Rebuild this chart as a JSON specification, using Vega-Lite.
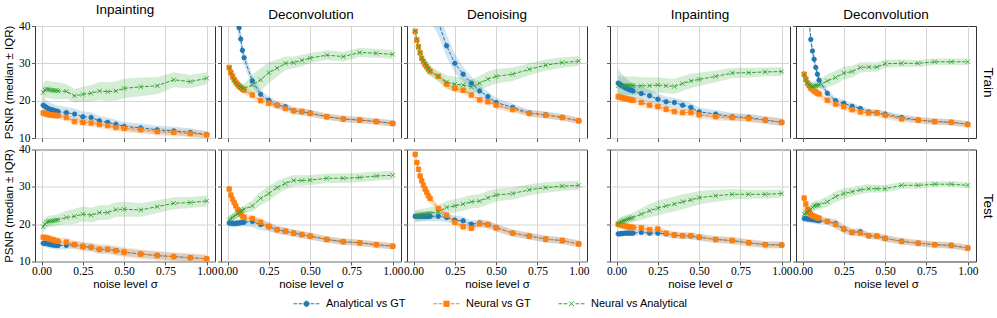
{
"$schema":"https://vega.github.io/schema/vega-lite/v6.json",
"padding":{"left":3,"top":2,"right":3,"bottom":2},
"datasets":{
"d1T":[
{"s":"A","x":0.01,"m":18.8,"l":16.8,"h":20.8},{"s":"A","x":0.02,"m":18.5,"l":16.6,"h":20.4},{"s":"A","x":0.03,"m":18.2,"l":16.3,"h":20.1},{"s":"A","x":0.04,"m":17.9,"l":16.1,"h":19.7},{"s":"A","x":0.05,"m":17.7,"l":15.9,"h":19.5},{"s":"A","x":0.06,"m":17.6,"l":15.9,"h":19.3},{"s":"A","x":0.07,"m":17.5,"l":15.8,"h":19.2},{"s":"A","x":0.08,"m":17.3,"l":15.6,"h":19.0},{"s":"A","x":0.09,"m":17.2,"l":15.6,"h":18.8},{"s":"A","x":0.1,"m":17.1,"l":15.5,"h":18.7},{"s":"A","x":0.15,"m":16.8,"l":15.3,"h":18.3},{"s":"A","x":0.2,"m":16.4,"l":14.9,"h":17.9},{"s":"A","x":0.25,"m":15.7,"l":14.3,"h":17.1},{"s":"A","x":0.3,"m":15.5,"l":14.1,"h":16.9},{"s":"A","x":0.35,"m":14.6,"l":13.3,"h":15.9},{"s":"A","x":0.4,"m":14.2,"l":12.9,"h":15.5},{"s":"A","x":0.45,"m":13.7,"l":12.5,"h":14.9},{"s":"A","x":0.5,"m":13.1,"l":11.9,"h":14.3},{"s":"A","x":0.6,"m":12.7,"l":11.5,"h":13.9},{"s":"A","x":0.7,"m":12.2,"l":11.1,"h":13.3},{"s":"A","x":0.8,"m":11.9,"l":10.8,"h":13.0},{"s":"A","x":0.9,"m":11.5,"l":10.4,"h":12.6},{"s":"A","x":1,"m":10.9,"l":9.9,"h":11.9},
{"s":"N","x":0.01,"m":16.7,"l":15.7,"h":17.7},{"s":"N","x":0.02,"m":16.6,"l":15.6,"h":17.6},{"s":"N","x":0.03,"m":16.4,"l":15.4,"h":17.4},{"s":"N","x":0.04,"m":16.3,"l":15.3,"h":17.3},{"s":"N","x":0.05,"m":16.2,"l":15.2,"h":17.2},{"s":"N","x":0.06,"m":16.2,"l":15.2,"h":17.2},{"s":"N","x":0.07,"m":16.1,"l":15.1,"h":17.1},{"s":"N","x":0.08,"m":16.1,"l":15.1,"h":17.1},{"s":"N","x":0.09,"m":16.0,"l":15.0,"h":17.0},{"s":"N","x":0.1,"m":16.0,"l":15.0,"h":17.0},{"s":"N","x":0.15,"m":15.5,"l":14.5,"h":16.5},{"s":"N","x":0.2,"m":14.4,"l":13.4,"h":15.4},{"s":"N","x":0.25,"m":14.2,"l":13.2,"h":15.2},{"s":"N","x":0.3,"m":14.0,"l":13.0,"h":15.0},{"s":"N","x":0.35,"m":13.6,"l":12.6,"h":14.6},{"s":"N","x":0.4,"m":13.3,"l":12.3,"h":14.3},{"s":"N","x":0.45,"m":12.8,"l":11.8,"h":13.8},{"s":"N","x":0.5,"m":12.6,"l":11.6,"h":13.6},{"s":"N","x":0.6,"m":12.2,"l":11.2,"h":13.2},{"s":"N","x":0.7,"m":11.7,"l":10.7,"h":12.7},{"s":"N","x":0.8,"m":11.5,"l":10.5,"h":12.5},{"s":"N","x":0.9,"m":11.2,"l":10.2,"h":12.2},{"s":"N","x":1,"m":10.8,"l":9.8,"h":11.8},
{"s":"NA","x":0.01,"m":22.2,"l":19.9,"h":24.5},{"s":"NA","x":0.02,"m":22.9,"l":20.6,"h":25.2},{"s":"NA","x":0.03,"m":23.1,"l":20.8,"h":25.4},{"s":"NA","x":0.04,"m":23.0,"l":20.7,"h":25.3},{"s":"NA","x":0.05,"m":22.9,"l":20.6,"h":25.2},{"s":"NA","x":0.06,"m":22.8,"l":20.5,"h":25.1},{"s":"NA","x":0.07,"m":22.8,"l":20.5,"h":25.1},{"s":"NA","x":0.08,"m":22.7,"l":20.4,"h":25.0},{"s":"NA","x":0.09,"m":22.7,"l":20.4,"h":25.0},{"s":"NA","x":0.1,"m":22.6,"l":20.3,"h":24.9},{"s":"NA","x":0.15,"m":22.5,"l":20.5,"h":24.5},{"s":"NA","x":0.2,"m":21.3,"l":19.5,"h":23.1},{"s":"NA","x":0.25,"m":21.7,"l":19.7,"h":23.7},{"s":"NA","x":0.3,"m":22.0,"l":19.8,"h":24.2},{"s":"NA","x":0.35,"m":22.6,"l":20.2,"h":25.0},{"s":"NA","x":0.4,"m":22.4,"l":19.9,"h":24.9},{"s":"NA","x":0.45,"m":22.6,"l":20.0,"h":25.2},{"s":"NA","x":0.5,"m":23.3,"l":20.7,"h":25.9},{"s":"NA","x":0.6,"m":23.7,"l":21.2,"h":26.2},{"s":"NA","x":0.7,"m":24.0,"l":21.7,"h":26.3},{"s":"NA","x":0.8,"m":25.6,"l":23.6,"h":27.6},{"s":"NA","x":0.9,"m":25.1,"l":23.3,"h":26.9},{"s":"NA","x":1,"m":26.0,"l":24.4,"h":27.6}
],
"d2T":[
{"s":"A","x":0.01,"m":70,"l":66,"h":74},{"s":"A","x":0.02,"m":60,"l":56,"h":64},{"s":"A","x":0.03,"m":53,"l":49.5,"h":56.5},{"s":"A","x":0.04,"m":48,"l":45,"h":51},{"s":"A","x":0.05,"m":43.5,"l":40.5,"h":46.5},{"s":"A","x":0.06,"m":40.8,"l":38.3,"h":43.3},{"s":"A","x":0.07,"m":39.5,"l":37,"h":42},{"s":"A","x":0.08,"m":36.5,"l":34.3,"h":38.7},{"s":"A","x":0.09,"m":33.5,"l":31.5,"h":35.5},{"s":"A","x":0.1,"m":31.5,"l":29.7,"h":33.3},{"s":"A","x":0.15,"m":25.3,"l":23.8,"h":26.8},{"s":"A","x":0.2,"m":21.7,"l":20.5,"h":22.9},{"s":"A","x":0.25,"m":20.1,"l":19.1,"h":21.1},{"s":"A","x":0.3,"m":18.8,"l":17.8,"h":19.8},{"s":"A","x":0.35,"m":18.4,"l":17.4,"h":19.4},{"s":"A","x":0.4,"m":17.3,"l":16.4,"h":18.2},{"s":"A","x":0.45,"m":17.0,"l":16.1,"h":17.9},{"s":"A","x":0.5,"m":16.7,"l":15.8,"h":17.6},{"s":"A","x":0.6,"m":15.7,"l":14.9,"h":16.5},{"s":"A","x":0.7,"m":15.1,"l":14.3,"h":15.9},{"s":"A","x":0.8,"m":14.8,"l":14.0,"h":15.6},{"s":"A","x":0.9,"m":14.4,"l":13.6,"h":15.2},{"s":"A","x":1,"m":13.9,"l":13.1,"h":14.7},
{"s":"N","x":0.01,"m":28.9,"l":27.8,"h":30.0},{"s":"N","x":0.02,"m":27.6,"l":26.5,"h":28.7},{"s":"N","x":0.03,"m":26.6,"l":25.5,"h":27.7},{"s":"N","x":0.04,"m":25.7,"l":24.6,"h":26.8},{"s":"N","x":0.05,"m":25.0,"l":23.9,"h":26.1},{"s":"N","x":0.06,"m":24.4,"l":23.3,"h":25.5},{"s":"N","x":0.07,"m":23.9,"l":22.8,"h":25.0},{"s":"N","x":0.08,"m":23.5,"l":22.4,"h":24.6},{"s":"N","x":0.09,"m":23.1,"l":22.0,"h":24.2},{"s":"N","x":0.1,"m":22.8,"l":21.7,"h":23.9},{"s":"N","x":0.15,"m":21.5,"l":20.5,"h":22.5},{"s":"N","x":0.2,"m":20.0,"l":19.0,"h":21.0},{"s":"N","x":0.25,"m":19.3,"l":18.3,"h":20.3},{"s":"N","x":0.3,"m":18.8,"l":17.8,"h":19.8},{"s":"N","x":0.35,"m":17.9,"l":16.9,"h":18.9},{"s":"N","x":0.4,"m":17.3,"l":16.3,"h":18.3},{"s":"N","x":0.45,"m":17.1,"l":16.1,"h":18.1},{"s":"N","x":0.5,"m":16.6,"l":15.6,"h":17.6},{"s":"N","x":0.6,"m":15.7,"l":14.8,"h":16.6},{"s":"N","x":0.7,"m":15.1,"l":14.2,"h":16.0},{"s":"N","x":0.8,"m":14.8,"l":13.9,"h":15.7},{"s":"N","x":0.9,"m":14.4,"l":13.5,"h":15.3},{"s":"N","x":1,"m":13.9,"l":13.0,"h":14.8},
{"s":"NA","x":0.01,"m":28.7,"l":27.5,"h":29.9},{"s":"NA","x":0.02,"m":27.3,"l":26.1,"h":28.5},{"s":"NA","x":0.03,"m":26.2,"l":25.0,"h":27.4},{"s":"NA","x":0.04,"m":25.4,"l":24.2,"h":26.6},{"s":"NA","x":0.05,"m":24.8,"l":23.6,"h":26.0},{"s":"NA","x":0.06,"m":24.3,"l":23.1,"h":25.5},{"s":"NA","x":0.07,"m":23.9,"l":22.7,"h":25.1},{"s":"NA","x":0.08,"m":23.6,"l":22.4,"h":24.8},{"s":"NA","x":0.09,"m":23.4,"l":22.2,"h":24.6},{"s":"NA","x":0.1,"m":23.3,"l":22.1,"h":24.5},{"s":"NA","x":0.15,"m":24.2,"l":21.4,"h":27.0},{"s":"NA","x":0.2,"m":25.6,"l":22.6,"h":28.6},{"s":"NA","x":0.25,"m":27.5,"l":24.7,"h":30.3},{"s":"NA","x":0.3,"m":28.7,"l":26.4,"h":31.0},{"s":"NA","x":0.35,"m":30.0,"l":28.2,"h":31.8},{"s":"NA","x":0.4,"m":30.2,"l":28.6,"h":31.8},{"s":"NA","x":0.45,"m":30.8,"l":29.3,"h":32.3},{"s":"NA","x":0.5,"m":31.4,"l":30.0,"h":32.8},{"s":"NA","x":0.6,"m":32.2,"l":30.9,"h":33.5},{"s":"NA","x":0.7,"m":31.8,"l":30.5,"h":33.1},{"s":"NA","x":0.8,"m":32.9,"l":31.7,"h":34.1},{"s":"NA","x":0.9,"m":32.7,"l":31.5,"h":33.9},{"s":"NA","x":1,"m":32.4,"l":31.2,"h":33.6}
],
"d3T":[
{"s":"A","x":0.01,"m":70,"l":65,"h":75},{"s":"A","x":0.02,"m":65,"l":60,"h":70},{"s":"A","x":0.03,"m":61,"l":56,"h":66},{"s":"A","x":0.04,"m":58,"l":53,"h":63},{"s":"A","x":0.05,"m":55,"l":50,"h":60},{"s":"A","x":0.06,"m":53,"l":48.5,"h":57.5},{"s":"A","x":0.07,"m":51,"l":46.5,"h":55.5},{"s":"A","x":0.08,"m":49,"l":45,"h":53},{"s":"A","x":0.09,"m":47,"l":43,"h":51},{"s":"A","x":0.1,"m":45.5,"l":41.5,"h":49.5},{"s":"A","x":0.15,"m":41,"l":37.5,"h":44.5},{"s":"A","x":0.2,"m":34.7,"l":31.7,"h":37.7},{"s":"A","x":0.25,"m":30.0,"l":27.5,"h":32.5},{"s":"A","x":0.3,"m":27.1,"l":25.1,"h":29.1},{"s":"A","x":0.35,"m":24.7,"l":22.9,"h":26.5},{"s":"A","x":0.4,"m":22.6,"l":21.1,"h":24.1},{"s":"A","x":0.45,"m":21.1,"l":19.8,"h":22.4},{"s":"A","x":0.5,"m":19.5,"l":18.3,"h":20.7},{"s":"A","x":0.6,"m":18.2,"l":17.2,"h":19.2},{"s":"A","x":0.7,"m":16.7,"l":15.8,"h":17.6},{"s":"A","x":0.8,"m":16.2,"l":15.3,"h":17.1},{"s":"A","x":0.9,"m":15.5,"l":14.7,"h":16.3},{"s":"A","x":1,"m":14.6,"l":13.8,"h":15.4},
{"s":"N","x":0.01,"m":38.5,"l":37.3,"h":39.7},{"s":"N","x":0.02,"m":36.2,"l":35.0,"h":37.4},{"s":"N","x":0.03,"m":34.4,"l":33.2,"h":35.6},{"s":"N","x":0.04,"m":32.8,"l":31.6,"h":34.0},{"s":"N","x":0.05,"m":31.3,"l":30.1,"h":32.5},{"s":"N","x":0.06,"m":30.4,"l":29.2,"h":31.6},{"s":"N","x":0.07,"m":29.6,"l":28.4,"h":30.8},{"s":"N","x":0.08,"m":29.0,"l":27.8,"h":30.2},{"s":"N","x":0.09,"m":28.4,"l":27.2,"h":29.6},{"s":"N","x":0.1,"m":27.8,"l":26.6,"h":29.0},{"s":"N","x":0.15,"m":26.5,"l":25.5,"h":27.5},{"s":"N","x":0.2,"m":24.4,"l":23.4,"h":25.4},{"s":"N","x":0.25,"m":23.3,"l":22.3,"h":24.3},{"s":"N","x":0.3,"m":22.8,"l":21.8,"h":23.8},{"s":"N","x":0.35,"m":21.5,"l":20.5,"h":22.5},{"s":"N","x":0.4,"m":20.2,"l":19.2,"h":21.2},{"s":"N","x":0.45,"m":19.7,"l":18.7,"h":20.7},{"s":"N","x":0.5,"m":18.8,"l":17.8,"h":19.8},{"s":"N","x":0.6,"m":17.6,"l":16.7,"h":18.5},{"s":"N","x":0.7,"m":16.6,"l":15.7,"h":17.5},{"s":"N","x":0.8,"m":16.1,"l":15.2,"h":17.0},{"s":"N","x":0.9,"m":15.5,"l":14.6,"h":16.4},{"s":"N","x":1,"m":14.6,"l":13.7,"h":15.5},
{"s":"NA","x":0.01,"m":38.7,"l":37.5,"h":39.9},{"s":"NA","x":0.02,"m":36.4,"l":35.2,"h":37.6},{"s":"NA","x":0.03,"m":34.5,"l":33.3,"h":35.7},{"s":"NA","x":0.04,"m":32.9,"l":31.7,"h":34.1},{"s":"NA","x":0.05,"m":31.5,"l":30.3,"h":32.7},{"s":"NA","x":0.06,"m":30.6,"l":29.4,"h":31.8},{"s":"NA","x":0.07,"m":29.9,"l":28.7,"h":31.1},{"s":"NA","x":0.08,"m":29.3,"l":28.1,"h":30.5},{"s":"NA","x":0.09,"m":28.6,"l":27.4,"h":29.8},{"s":"NA","x":0.1,"m":28.0,"l":26.8,"h":29.2},{"s":"NA","x":0.15,"m":26.5,"l":25.0,"h":28.0},{"s":"NA","x":0.2,"m":25.0,"l":23.2,"h":26.8},{"s":"NA","x":0.25,"m":24.4,"l":22.4,"h":26.4},{"s":"NA","x":0.3,"m":24.2,"l":22.2,"h":26.2},{"s":"NA","x":0.35,"m":23.7,"l":21.7,"h":25.7},{"s":"NA","x":0.4,"m":24.7,"l":22.7,"h":26.7},{"s":"NA","x":0.45,"m":25.8,"l":23.8,"h":27.8},{"s":"NA","x":0.5,"m":26.5,"l":24.5,"h":28.5},{"s":"NA","x":0.6,"m":27.1,"l":25.3,"h":28.9},{"s":"NA","x":0.7,"m":28.4,"l":26.8,"h":30.0},{"s":"NA","x":0.8,"m":29.5,"l":28.0,"h":31.0},{"s":"NA","x":0.9,"m":30.2,"l":28.8,"h":31.6},{"s":"NA","x":1,"m":30.6,"l":29.3,"h":31.9}
],
"d4T":[
{"s":"A","x":0.01,"m":24.7,"l":20.7,"h":28.7},{"s":"A","x":0.02,"m":24.4,"l":20.9,"h":27.9},{"s":"A","x":0.03,"m":24.1,"l":20.9,"h":27.3},{"s":"A","x":0.04,"m":23.8,"l":20.8,"h":26.8},{"s":"A","x":0.05,"m":23.5,"l":20.7,"h":26.3},{"s":"A","x":0.06,"m":23.3,"l":20.7,"h":25.9},{"s":"A","x":0.07,"m":23.1,"l":20.7,"h":25.5},{"s":"A","x":0.08,"m":22.9,"l":20.6,"h":25.2},{"s":"A","x":0.09,"m":22.8,"l":20.6,"h":25.0},{"s":"A","x":0.1,"m":22.6,"l":20.5,"h":24.7},{"s":"A","x":0.15,"m":21.9,"l":20.1,"h":23.7},{"s":"A","x":0.2,"m":21.3,"l":19.7,"h":22.9},{"s":"A","x":0.25,"m":20.4,"l":18.9,"h":21.9},{"s":"A","x":0.3,"m":19.7,"l":18.3,"h":21.1},{"s":"A","x":0.35,"m":19.5,"l":18.2,"h":20.8},{"s":"A","x":0.4,"m":18.8,"l":17.5,"h":20.1},{"s":"A","x":0.45,"m":18.2,"l":17.0,"h":19.4},{"s":"A","x":0.5,"m":17.0,"l":15.8,"h":18.2},{"s":"A","x":0.6,"m":16.4,"l":15.3,"h":17.5},{"s":"A","x":0.7,"m":15.7,"l":14.7,"h":16.7},{"s":"A","x":0.8,"m":15.5,"l":14.5,"h":16.5},{"s":"A","x":0.9,"m":14.8,"l":13.8,"h":15.8},{"s":"A","x":1,"m":14.2,"l":13.2,"h":15.2},
{"s":"N","x":0.01,"m":21.1,"l":20.1,"h":22.1},{"s":"N","x":0.02,"m":20.9,"l":19.9,"h":21.9},{"s":"N","x":0.03,"m":20.8,"l":19.8,"h":21.8},{"s":"N","x":0.04,"m":20.7,"l":19.7,"h":21.7},{"s":"N","x":0.05,"m":20.6,"l":19.6,"h":21.6},{"s":"N","x":0.06,"m":20.5,"l":19.5,"h":21.5},{"s":"N","x":0.07,"m":20.4,"l":19.4,"h":21.4},{"s":"N","x":0.08,"m":20.3,"l":19.3,"h":21.3},{"s":"N","x":0.09,"m":20.2,"l":19.2,"h":21.2},{"s":"N","x":0.1,"m":20.1,"l":19.1,"h":21.1},{"s":"N","x":0.15,"m":19.5,"l":18.5,"h":20.5},{"s":"N","x":0.2,"m":18.8,"l":17.8,"h":19.8},{"s":"N","x":0.25,"m":18.4,"l":17.4,"h":19.4},{"s":"N","x":0.3,"m":17.7,"l":16.7,"h":18.7},{"s":"N","x":0.35,"m":17.1,"l":16.1,"h":18.1},{"s":"N","x":0.4,"m":16.8,"l":15.8,"h":17.8},{"s":"N","x":0.45,"m":16.8,"l":15.8,"h":17.8},{"s":"N","x":0.5,"m":16.2,"l":15.2,"h":17.2},{"s":"N","x":0.6,"m":15.7,"l":14.7,"h":16.7},{"s":"N","x":0.7,"m":15.5,"l":14.5,"h":16.5},{"s":"N","x":0.8,"m":15.2,"l":14.2,"h":16.2},{"s":"N","x":0.9,"m":14.8,"l":13.8,"h":15.8},{"s":"N","x":1,"m":14.2,"l":13.2,"h":15.2},
{"s":"NA","x":0.01,"m":24.0,"l":21.5,"h":26.5},{"s":"NA","x":0.02,"m":24.4,"l":21.9,"h":26.9},{"s":"NA","x":0.03,"m":23.8,"l":21.3,"h":26.3},{"s":"NA","x":0.04,"m":24.0,"l":21.5,"h":26.5},{"s":"NA","x":0.05,"m":24.1,"l":21.6,"h":26.6},{"s":"NA","x":0.06,"m":24.0,"l":21.5,"h":26.5},{"s":"NA","x":0.07,"m":24.0,"l":21.5,"h":26.5},{"s":"NA","x":0.08,"m":24.0,"l":21.5,"h":26.5},{"s":"NA","x":0.09,"m":24.0,"l":21.5,"h":26.5},{"s":"NA","x":0.1,"m":24.0,"l":21.5,"h":26.5},{"s":"NA","x":0.15,"m":24.0,"l":21.7,"h":26.3},{"s":"NA","x":0.2,"m":24.0,"l":21.8,"h":26.2},{"s":"NA","x":0.25,"m":24.2,"l":22.1,"h":26.3},{"s":"NA","x":0.3,"m":24.0,"l":22.0,"h":26.0},{"s":"NA","x":0.35,"m":23.8,"l":21.8,"h":25.8},{"s":"NA","x":0.4,"m":24.6,"l":22.6,"h":26.6},{"s":"NA","x":0.45,"m":25.3,"l":23.4,"h":27.2},{"s":"NA","x":0.5,"m":25.7,"l":23.9,"h":27.5},{"s":"NA","x":0.6,"m":26.5,"l":24.9,"h":28.1},{"s":"NA","x":0.7,"m":27.4,"l":26.0,"h":28.8},{"s":"NA","x":0.8,"m":27.5,"l":26.2,"h":28.8},{"s":"NA","x":0.9,"m":27.7,"l":26.5,"h":28.9},{"s":"NA","x":1,"m":27.8,"l":26.6,"h":29.0}
],
"d5T":[
{"s":"A","x":0.01,"m":65,"l":62,"h":68},{"s":"A","x":0.02,"m":56,"l":53,"h":59},{"s":"A","x":0.03,"m":48,"l":45.5,"h":50.5},{"s":"A","x":0.04,"m":41.5,"l":39,"h":44},{"s":"A","x":0.05,"m":36.4,"l":34.4,"h":38.4},{"s":"A","x":0.06,"m":33.3,"l":31.3,"h":35.3},{"s":"A","x":0.07,"m":31.1,"l":29.3,"h":32.9},{"s":"A","x":0.08,"m":28.9,"l":27.4,"h":30.4},{"s":"A","x":0.09,"m":27.1,"l":25.6,"h":28.6},{"s":"A","x":0.1,"m":25.5,"l":24.2,"h":26.8},{"s":"A","x":0.15,"m":22.0,"l":21.0,"h":23.0},{"s":"A","x":0.2,"m":20.0,"l":19.1,"h":20.9},{"s":"A","x":0.25,"m":19.3,"l":18.4,"h":20.2},{"s":"A","x":0.3,"m":18.5,"l":17.6,"h":19.4},{"s":"A","x":0.35,"m":17.9,"l":17.1,"h":18.7},{"s":"A","x":0.4,"m":17.0,"l":16.2,"h":17.8},{"s":"A","x":0.45,"m":16.8,"l":16.0,"h":17.6},{"s":"A","x":0.5,"m":16.4,"l":15.6,"h":17.2},{"s":"A","x":0.6,"m":15.5,"l":14.7,"h":16.3},{"s":"A","x":0.7,"m":14.8,"l":14.0,"h":15.6},{"s":"A","x":0.8,"m":14.4,"l":13.6,"h":15.2},{"s":"A","x":0.9,"m":14.2,"l":13.4,"h":15.0},{"s":"A","x":1,"m":13.7,"l":12.9,"h":14.5},
{"s":"N","x":0.01,"m":27.1,"l":26.0,"h":28.2},{"s":"N","x":0.02,"m":25.8,"l":24.7,"h":26.9},{"s":"N","x":0.03,"m":24.7,"l":23.6,"h":25.8},{"s":"N","x":0.04,"m":24.0,"l":22.9,"h":25.1},{"s":"N","x":0.05,"m":23.3,"l":22.2,"h":24.4},{"s":"N","x":0.06,"m":23.0,"l":21.9,"h":24.1},{"s":"N","x":0.07,"m":22.6,"l":21.5,"h":23.7},{"s":"N","x":0.08,"m":22.3,"l":21.2,"h":23.4},{"s":"N","x":0.09,"m":22.0,"l":20.9,"h":23.1},{"s":"N","x":0.1,"m":21.8,"l":20.7,"h":22.9},{"s":"N","x":0.15,"m":20.1,"l":19.1,"h":21.1},{"s":"N","x":0.2,"m":19.1,"l":18.1,"h":20.1},{"s":"N","x":0.25,"m":18.4,"l":17.4,"h":19.4},{"s":"N","x":0.3,"m":17.6,"l":16.6,"h":18.6},{"s":"N","x":0.35,"m":17.0,"l":16.0,"h":18.0},{"s":"N","x":0.4,"m":16.7,"l":15.7,"h":17.7},{"s":"N","x":0.45,"m":16.7,"l":15.7,"h":17.7},{"s":"N","x":0.5,"m":16.1,"l":15.1,"h":17.1},{"s":"N","x":0.6,"m":15.1,"l":14.2,"h":16.0},{"s":"N","x":0.7,"m":14.8,"l":13.9,"h":15.7},{"s":"N","x":0.8,"m":14.4,"l":13.5,"h":15.3},{"s":"N","x":0.9,"m":14.2,"l":13.3,"h":15.1},{"s":"N","x":1,"m":13.6,"l":12.7,"h":14.5},
{"s":"NA","x":0.01,"m":26.9,"l":25.6,"h":28.2},{"s":"NA","x":0.02,"m":25.6,"l":24.3,"h":26.9},{"s":"NA","x":0.03,"m":24.7,"l":23.4,"h":26.0},{"s":"NA","x":0.04,"m":24.2,"l":22.9,"h":25.5},{"s":"NA","x":0.05,"m":23.9,"l":22.6,"h":25.2},{"s":"NA","x":0.06,"m":23.8,"l":22.5,"h":25.1},{"s":"NA","x":0.07,"m":24.0,"l":22.7,"h":25.3},{"s":"NA","x":0.08,"m":24.0,"l":22.7,"h":25.3},{"s":"NA","x":0.09,"m":24.1,"l":22.8,"h":25.4},{"s":"NA","x":0.1,"m":24.2,"l":22.9,"h":25.5},{"s":"NA","x":0.15,"m":25.3,"l":23.5,"h":27.1},{"s":"NA","x":0.2,"m":26.2,"l":24.4,"h":28.0},{"s":"NA","x":0.25,"m":27.4,"l":25.7,"h":29.1},{"s":"NA","x":0.3,"m":27.8,"l":26.2,"h":29.4},{"s":"NA","x":0.35,"m":28.9,"l":27.5,"h":30.3},{"s":"NA","x":0.4,"m":29.0,"l":27.7,"h":30.3},{"s":"NA","x":0.45,"m":29.0,"l":27.8,"h":30.2},{"s":"NA","x":0.5,"m":29.9,"l":28.8,"h":31.0},{"s":"NA","x":0.6,"m":30.0,"l":29.0,"h":31.0},{"s":"NA","x":0.7,"m":30.0,"l":29.1,"h":30.9},{"s":"NA","x":0.8,"m":30.4,"l":29.5,"h":31.3},{"s":"NA","x":0.9,"m":30.4,"l":29.5,"h":31.3},{"s":"NA","x":1,"m":30.4,"l":29.5,"h":31.3}
],
"d1E":[
{"s":"A","x":0.01,"m":14.9,"l":13.8,"h":16.0},{"s":"A","x":0.02,"m":14.9,"l":13.8,"h":16.0},{"s":"A","x":0.03,"m":14.8,"l":13.7,"h":15.9},{"s":"A","x":0.04,"m":14.7,"l":13.6,"h":15.8},{"s":"A","x":0.05,"m":14.6,"l":13.5,"h":15.7},{"s":"A","x":0.06,"m":14.5,"l":13.4,"h":15.6},{"s":"A","x":0.07,"m":14.4,"l":13.3,"h":15.5},{"s":"A","x":0.08,"m":14.4,"l":13.3,"h":15.5},{"s":"A","x":0.09,"m":14.3,"l":13.2,"h":15.4},{"s":"A","x":0.1,"m":14.3,"l":13.2,"h":15.4},{"s":"A","x":0.15,"m":14.3,"l":13.3,"h":15.3},{"s":"A","x":0.2,"m":14.5,"l":13.5,"h":15.5},{"s":"A","x":0.25,"m":14.1,"l":13.1,"h":15.1},{"s":"A","x":0.3,"m":13.8,"l":12.8,"h":14.8},{"s":"A","x":0.35,"m":13.2,"l":12.2,"h":14.2},{"s":"A","x":0.4,"m":13.2,"l":12.2,"h":14.2},{"s":"A","x":0.45,"m":12.9,"l":11.9,"h":13.9},{"s":"A","x":0.5,"m":12.5,"l":11.5,"h":13.5},{"s":"A","x":0.6,"m":12.0,"l":11.0,"h":13.0},{"s":"A","x":0.7,"m":11.6,"l":10.6,"h":12.6},{"s":"A","x":0.8,"m":11.3,"l":10.3,"h":12.3},{"s":"A","x":0.9,"m":11.0,"l":10.0,"h":12.0},{"s":"A","x":1,"m":10.7,"l":9.7,"h":11.7},
{"s":"N","x":0.01,"m":16.5,"l":15.5,"h":17.5},{"s":"N","x":0.02,"m":16.4,"l":15.4,"h":17.4},{"s":"N","x":0.03,"m":16.3,"l":15.3,"h":17.3},{"s":"N","x":0.04,"m":16.2,"l":15.2,"h":17.2},{"s":"N","x":0.05,"m":16.0,"l":15.0,"h":17.0},{"s":"N","x":0.06,"m":15.9,"l":14.9,"h":16.9},{"s":"N","x":0.07,"m":15.8,"l":14.8,"h":16.8},{"s":"N","x":0.08,"m":15.6,"l":14.6,"h":16.6},{"s":"N","x":0.09,"m":15.5,"l":14.5,"h":16.5},{"s":"N","x":0.1,"m":15.4,"l":14.4,"h":16.4},{"s":"N","x":0.15,"m":15.2,"l":14.0,"h":16.4},{"s":"N","x":0.2,"m":14.5,"l":13.3,"h":15.7},{"s":"N","x":0.25,"m":14.0,"l":12.8,"h":15.2},{"s":"N","x":0.3,"m":13.8,"l":12.5,"h":15.1},{"s":"N","x":0.35,"m":13.3,"l":12.0,"h":14.6},{"s":"N","x":0.4,"m":13.3,"l":12.0,"h":14.6},{"s":"N","x":0.45,"m":12.9,"l":11.6,"h":14.2},{"s":"N","x":0.5,"m":12.5,"l":11.2,"h":13.8},{"s":"N","x":0.6,"m":12.0,"l":10.7,"h":13.3},{"s":"N","x":0.7,"m":11.6,"l":10.3,"h":12.9},{"s":"N","x":0.8,"m":11.3,"l":10.1,"h":12.5},{"s":"N","x":0.9,"m":11.0,"l":9.8,"h":12.2},{"s":"N","x":1,"m":10.7,"l":9.5,"h":11.9},
{"s":"NA","x":0.01,"m":19.3,"l":17.8,"h":20.8},{"s":"NA","x":0.02,"m":20.0,"l":18.5,"h":21.5},{"s":"NA","x":0.03,"m":20.5,"l":19.0,"h":22.0},{"s":"NA","x":0.04,"m":20.7,"l":19.2,"h":22.2},{"s":"NA","x":0.05,"m":20.8,"l":19.3,"h":22.3},{"s":"NA","x":0.06,"m":20.8,"l":19.3,"h":22.3},{"s":"NA","x":0.07,"m":20.9,"l":19.4,"h":22.4},{"s":"NA","x":0.08,"m":21.0,"l":19.5,"h":22.5},{"s":"NA","x":0.09,"m":21.1,"l":19.6,"h":22.6},{"s":"NA","x":0.1,"m":21.2,"l":19.7,"h":22.7},{"s":"NA","x":0.15,"m":21.8,"l":20.0,"h":23.6},{"s":"NA","x":0.2,"m":22.1,"l":20.1,"h":24.1},{"s":"NA","x":0.25,"m":22.7,"l":20.7,"h":24.7},{"s":"NA","x":0.3,"m":22.4,"l":20.4,"h":24.4},{"s":"NA","x":0.35,"m":23.1,"l":21.1,"h":25.1},{"s":"NA","x":0.4,"m":23.1,"l":21.1,"h":25.1},{"s":"NA","x":0.45,"m":23.9,"l":21.9,"h":25.9},{"s":"NA","x":0.5,"m":24.0,"l":22.0,"h":26.0},{"s":"NA","x":0.6,"m":23.8,"l":22.0,"h":25.6},{"s":"NA","x":0.7,"m":24.7,"l":23.0,"h":26.4},{"s":"NA","x":0.8,"m":25.6,"l":24.0,"h":27.2},{"s":"NA","x":0.9,"m":25.8,"l":24.3,"h":27.3},{"s":"NA","x":1,"m":26.2,"l":24.7,"h":27.7}
],
"d2E":[
{"s":"A","x":0.01,"m":20.3,"l":19.3,"h":21.3},{"s":"A","x":0.02,"m":20.3,"l":19.3,"h":21.3},{"s":"A","x":0.03,"m":20.2,"l":19.2,"h":21.2},{"s":"A","x":0.04,"m":20.2,"l":19.2,"h":21.2},{"s":"A","x":0.05,"m":20.2,"l":19.2,"h":21.2},{"s":"A","x":0.06,"m":20.3,"l":19.3,"h":21.3},{"s":"A","x":0.07,"m":20.3,"l":19.3,"h":21.3},{"s":"A","x":0.08,"m":20.4,"l":19.4,"h":21.4},{"s":"A","x":0.09,"m":20.5,"l":19.5,"h":21.5},{"s":"A","x":0.1,"m":20.5,"l":19.5,"h":21.5},{"s":"A","x":0.15,"m":20.7,"l":19.2,"h":22.2},{"s":"A","x":0.2,"m":19.9,"l":18.4,"h":21.4},{"s":"A","x":0.25,"m":19.3,"l":18.1,"h":20.5},{"s":"A","x":0.3,"m":18.5,"l":17.5,"h":19.5},{"s":"A","x":0.35,"m":18.1,"l":17.1,"h":19.1},{"s":"A","x":0.4,"m":17.6,"l":16.7,"h":18.5},{"s":"A","x":0.45,"m":17.2,"l":16.3,"h":18.1},{"s":"A","x":0.5,"m":16.8,"l":15.9,"h":17.7},{"s":"A","x":0.6,"m":15.9,"l":15.1,"h":16.7},{"s":"A","x":0.7,"m":15.3,"l":14.5,"h":16.1},{"s":"A","x":0.8,"m":15.0,"l":14.2,"h":15.8},{"s":"A","x":0.9,"m":14.5,"l":13.7,"h":15.3},{"s":"A","x":1,"m":14.1,"l":13.3,"h":14.9},
{"s":"N","x":0.01,"m":29.4,"l":28.4,"h":30.4},{"s":"N","x":0.02,"m":27.8,"l":26.8,"h":28.8},{"s":"N","x":0.03,"m":26.7,"l":25.7,"h":27.7},{"s":"N","x":0.04,"m":25.8,"l":24.8,"h":26.8},{"s":"N","x":0.05,"m":24.9,"l":23.9,"h":25.9},{"s":"N","x":0.06,"m":24.0,"l":23.0,"h":25.0},{"s":"N","x":0.07,"m":23.4,"l":22.4,"h":24.4},{"s":"N","x":0.08,"m":22.7,"l":21.7,"h":23.7},{"s":"N","x":0.09,"m":22.1,"l":21.1,"h":23.1},{"s":"N","x":0.1,"m":21.8,"l":20.8,"h":22.8},{"s":"N","x":0.15,"m":21.5,"l":20.5,"h":22.5},{"s":"N","x":0.2,"m":20.5,"l":19.5,"h":21.5},{"s":"N","x":0.25,"m":19.4,"l":18.4,"h":20.4},{"s":"N","x":0.3,"m":18.5,"l":17.5,"h":19.5},{"s":"N","x":0.35,"m":18.1,"l":17.1,"h":19.1},{"s":"N","x":0.4,"m":17.6,"l":16.6,"h":18.6},{"s":"N","x":0.45,"m":17.2,"l":16.2,"h":18.2},{"s":"N","x":0.5,"m":16.8,"l":15.8,"h":17.8},{"s":"N","x":0.6,"m":15.9,"l":15.0,"h":16.8},{"s":"N","x":0.7,"m":15.3,"l":14.4,"h":16.2},{"s":"N","x":0.8,"m":15.0,"l":14.1,"h":15.9},{"s":"N","x":0.9,"m":14.5,"l":13.6,"h":15.4},{"s":"N","x":1,"m":14.1,"l":13.2,"h":15.0},
{"s":"NA","x":0.01,"m":21.2,"l":20.2,"h":22.2},{"s":"NA","x":0.02,"m":21.5,"l":20.5,"h":22.5},{"s":"NA","x":0.03,"m":21.8,"l":20.8,"h":22.8},{"s":"NA","x":0.04,"m":22.1,"l":21.1,"h":23.1},{"s":"NA","x":0.05,"m":22.4,"l":21.4,"h":23.4},{"s":"NA","x":0.06,"m":22.7,"l":21.7,"h":23.7},{"s":"NA","x":0.07,"m":23.1,"l":22.1,"h":24.1},{"s":"NA","x":0.08,"m":23.4,"l":22.4,"h":24.4},{"s":"NA","x":0.09,"m":23.7,"l":22.7,"h":24.7},{"s":"NA","x":0.1,"m":24.0,"l":23.0,"h":25.0},{"s":"NA","x":0.15,"m":24.9,"l":23.4,"h":26.4},{"s":"NA","x":0.2,"m":26.9,"l":25.1,"h":28.7},{"s":"NA","x":0.25,"m":28.2,"l":26.2,"h":30.2},{"s":"NA","x":0.3,"m":29.8,"l":28.0,"h":31.6},{"s":"NA","x":0.35,"m":30.9,"l":29.3,"h":32.5},{"s":"NA","x":0.4,"m":31.7,"l":30.2,"h":33.2},{"s":"NA","x":0.45,"m":31.7,"l":30.3,"h":33.1},{"s":"NA","x":0.5,"m":31.8,"l":30.4,"h":33.2},{"s":"NA","x":0.6,"m":32.3,"l":31.0,"h":33.6},{"s":"NA","x":0.7,"m":32.3,"l":31.0,"h":33.6},{"s":"NA","x":0.8,"m":32.5,"l":31.2,"h":33.8},{"s":"NA","x":0.9,"m":32.9,"l":31.7,"h":34.1},{"s":"NA","x":1,"m":33.1,"l":31.9,"h":34.3}
],
"d3E":[
{"s":"A","x":0.01,"m":22.1,"l":20.8,"h":23.4},{"s":"A","x":0.02,"m":22.1,"l":20.8,"h":23.4},{"s":"A","x":0.03,"m":22.1,"l":20.8,"h":23.4},{"s":"A","x":0.04,"m":22.1,"l":20.8,"h":23.4},{"s":"A","x":0.05,"m":22.1,"l":20.8,"h":23.4},{"s":"A","x":0.06,"m":22.1,"l":20.8,"h":23.4},{"s":"A","x":0.07,"m":22.1,"l":20.8,"h":23.4},{"s":"A","x":0.08,"m":22.1,"l":20.8,"h":23.4},{"s":"A","x":0.09,"m":22.1,"l":20.8,"h":23.4},{"s":"A","x":0.1,"m":22.1,"l":20.8,"h":23.4},{"s":"A","x":0.15,"m":22.1,"l":20.8,"h":23.4},{"s":"A","x":0.2,"m":21.8,"l":20.6,"h":23.0},{"s":"A","x":0.25,"m":21.1,"l":19.9,"h":22.3},{"s":"A","x":0.3,"m":20.9,"l":19.8,"h":22.0},{"s":"A","x":0.35,"m":20.0,"l":19.0,"h":21.0},{"s":"A","x":0.4,"m":20.3,"l":19.3,"h":21.3},{"s":"A","x":0.45,"m":19.9,"l":18.9,"h":20.9},{"s":"A","x":0.5,"m":19.1,"l":18.1,"h":20.1},{"s":"A","x":0.6,"m":17.6,"l":16.7,"h":18.5},{"s":"A","x":0.7,"m":16.8,"l":15.9,"h":17.7},{"s":"A","x":0.8,"m":16.0,"l":15.1,"h":16.9},{"s":"A","x":0.9,"m":15.6,"l":14.7,"h":16.5},{"s":"A","x":1,"m":14.7,"l":13.8,"h":15.6},
{"s":"N","x":0.01,"m":38.7,"l":37.5,"h":39.9},{"s":"N","x":0.02,"m":36.5,"l":35.3,"h":37.7},{"s":"N","x":0.03,"m":34.7,"l":33.5,"h":35.9},{"s":"N","x":0.04,"m":32.9,"l":31.7,"h":34.1},{"s":"N","x":0.05,"m":31.6,"l":30.4,"h":32.8},{"s":"N","x":0.06,"m":30.4,"l":29.2,"h":31.6},{"s":"N","x":0.07,"m":29.4,"l":28.2,"h":30.6},{"s":"N","x":0.08,"m":28.5,"l":27.3,"h":29.7},{"s":"N","x":0.09,"m":27.6,"l":26.4,"h":28.8},{"s":"N","x":0.1,"m":26.9,"l":25.7,"h":28.1},{"s":"N","x":0.15,"m":24.2,"l":23.2,"h":25.2},{"s":"N","x":0.2,"m":22.4,"l":21.4,"h":23.4},{"s":"N","x":0.25,"m":20.5,"l":19.5,"h":21.5},{"s":"N","x":0.3,"m":19.3,"l":18.3,"h":20.3},{"s":"N","x":0.35,"m":18.9,"l":17.9,"h":19.9},{"s":"N","x":0.4,"m":20.1,"l":19.1,"h":21.1},{"s":"N","x":0.45,"m":19.9,"l":18.9,"h":20.9},{"s":"N","x":0.5,"m":19.0,"l":18.0,"h":20.0},{"s":"N","x":0.6,"m":17.6,"l":16.7,"h":18.5},{"s":"N","x":0.7,"m":16.8,"l":15.9,"h":17.7},{"s":"N","x":0.8,"m":16.0,"l":15.1,"h":16.9},{"s":"N","x":0.9,"m":15.6,"l":14.7,"h":16.5},{"s":"N","x":1,"m":14.7,"l":13.8,"h":15.6},
{"s":"NA","x":0.01,"m":22.1,"l":20.5,"h":23.7},{"s":"NA","x":0.02,"m":22.2,"l":20.6,"h":23.8},{"s":"NA","x":0.03,"m":22.3,"l":20.7,"h":23.9},{"s":"NA","x":0.04,"m":22.4,"l":20.8,"h":24.0},{"s":"NA","x":0.05,"m":22.5,"l":20.9,"h":24.1},{"s":"NA","x":0.06,"m":22.6,"l":21.0,"h":24.2},{"s":"NA","x":0.07,"m":22.6,"l":21.0,"h":24.2},{"s":"NA","x":0.08,"m":22.7,"l":21.1,"h":24.3},{"s":"NA","x":0.09,"m":22.8,"l":21.2,"h":24.4},{"s":"NA","x":0.1,"m":22.9,"l":21.3,"h":24.5},{"s":"NA","x":0.15,"m":23.3,"l":21.5,"h":25.1},{"s":"NA","x":0.2,"m":24.5,"l":22.7,"h":26.3},{"s":"NA","x":0.25,"m":24.9,"l":23.1,"h":26.7},{"s":"NA","x":0.3,"m":25.4,"l":23.6,"h":27.2},{"s":"NA","x":0.35,"m":26.0,"l":24.2,"h":27.8},{"s":"NA","x":0.4,"m":26.2,"l":24.4,"h":28.0},{"s":"NA","x":0.45,"m":27.1,"l":25.3,"h":28.9},{"s":"NA","x":0.5,"m":27.8,"l":26.1,"h":29.5},{"s":"NA","x":0.6,"m":28.2,"l":26.6,"h":29.8},{"s":"NA","x":0.7,"m":29.2,"l":27.7,"h":30.7},{"s":"NA","x":0.8,"m":29.8,"l":28.4,"h":31.2},{"s":"NA","x":0.9,"m":30.2,"l":28.9,"h":31.5},{"s":"NA","x":1,"m":30.4,"l":29.2,"h":31.6}
],
"d4E":[
{"s":"A","x":0.01,"m":17.4,"l":16.6,"h":18.2},{"s":"A","x":0.02,"m":17.4,"l":16.6,"h":18.2},{"s":"A","x":0.03,"m":17.5,"l":16.7,"h":18.3},{"s":"A","x":0.04,"m":17.5,"l":16.7,"h":18.3},{"s":"A","x":0.05,"m":17.6,"l":16.8,"h":18.4},{"s":"A","x":0.06,"m":17.6,"l":16.8,"h":18.4},{"s":"A","x":0.07,"m":17.6,"l":16.8,"h":18.4},{"s":"A","x":0.08,"m":17.6,"l":16.8,"h":18.4},{"s":"A","x":0.09,"m":17.6,"l":16.8,"h":18.4},{"s":"A","x":0.1,"m":17.6,"l":16.8,"h":18.4},{"s":"A","x":0.15,"m":17.8,"l":17.0,"h":18.6},{"s":"A","x":0.2,"m":17.6,"l":16.8,"h":18.4},{"s":"A","x":0.25,"m":17.6,"l":16.8,"h":18.4},{"s":"A","x":0.3,"m":17.4,"l":16.6,"h":18.2},{"s":"A","x":0.35,"m":17.1,"l":16.3,"h":17.9},{"s":"A","x":0.4,"m":16.9,"l":16.1,"h":17.7},{"s":"A","x":0.45,"m":16.8,"l":16.0,"h":17.6},{"s":"A","x":0.5,"m":16.5,"l":15.7,"h":17.3},{"s":"A","x":0.6,"m":15.9,"l":15.1,"h":16.7},{"s":"A","x":0.7,"m":15.6,"l":14.8,"h":16.4},{"s":"A","x":0.8,"m":15.0,"l":14.2,"h":15.8},{"s":"A","x":0.9,"m":14.5,"l":13.7,"h":15.3},{"s":"A","x":1,"m":14.4,"l":13.6,"h":15.2},
{"s":"N","x":0.01,"m":20.0,"l":19.0,"h":21.0},{"s":"N","x":0.02,"m":19.9,"l":18.9,"h":20.9},{"s":"N","x":0.03,"m":19.8,"l":18.8,"h":20.8},{"s":"N","x":0.04,"m":19.6,"l":18.6,"h":20.6},{"s":"N","x":0.05,"m":19.5,"l":18.5,"h":20.5},{"s":"N","x":0.06,"m":19.4,"l":18.4,"h":20.4},{"s":"N","x":0.07,"m":19.3,"l":18.3,"h":20.3},{"s":"N","x":0.08,"m":19.2,"l":18.2,"h":20.2},{"s":"N","x":0.09,"m":19.2,"l":18.2,"h":20.2},{"s":"N","x":0.1,"m":19.1,"l":18.1,"h":20.1},{"s":"N","x":0.15,"m":19.0,"l":18.0,"h":20.0},{"s":"N","x":0.2,"m":18.5,"l":17.5,"h":19.5},{"s":"N","x":0.25,"m":18.7,"l":17.7,"h":19.7},{"s":"N","x":0.3,"m":17.6,"l":16.6,"h":18.6},{"s":"N","x":0.35,"m":17.1,"l":16.1,"h":18.1},{"s":"N","x":0.4,"m":16.9,"l":15.9,"h":17.9},{"s":"N","x":0.45,"m":16.9,"l":15.9,"h":17.9},{"s":"N","x":0.5,"m":16.5,"l":15.5,"h":17.5},{"s":"N","x":0.6,"m":15.9,"l":14.9,"h":16.9},{"s":"N","x":0.7,"m":15.6,"l":14.6,"h":16.6},{"s":"N","x":0.8,"m":15.0,"l":14.0,"h":16.0},{"s":"N","x":0.9,"m":14.5,"l":13.5,"h":15.5},{"s":"N","x":1,"m":14.4,"l":13.4,"h":15.4},
{"s":"NA","x":0.01,"m":20.0,"l":18.7,"h":21.3},{"s":"NA","x":0.02,"m":20.5,"l":19.2,"h":21.8},{"s":"NA","x":0.03,"m":20.7,"l":19.4,"h":22.0},{"s":"NA","x":0.04,"m":20.9,"l":19.6,"h":22.2},{"s":"NA","x":0.05,"m":21.0,"l":19.7,"h":22.3},{"s":"NA","x":0.06,"m":21.2,"l":19.9,"h":22.5},{"s":"NA","x":0.07,"m":21.4,"l":20.1,"h":22.7},{"s":"NA","x":0.08,"m":21.5,"l":20.2,"h":22.8},{"s":"NA","x":0.09,"m":21.6,"l":20.3,"h":22.9},{"s":"NA","x":0.1,"m":21.8,"l":20.5,"h":23.1},{"s":"NA","x":0.15,"m":22.7,"l":21.1,"h":24.3},{"s":"NA","x":0.2,"m":23.6,"l":21.8,"h":25.4},{"s":"NA","x":0.25,"m":24.3,"l":22.3,"h":26.3},{"s":"NA","x":0.3,"m":24.9,"l":22.9,"h":26.9},{"s":"NA","x":0.35,"m":25.4,"l":23.4,"h":27.4},{"s":"NA","x":0.4,"m":26.0,"l":24.0,"h":28.0},{"s":"NA","x":0.45,"m":26.5,"l":24.6,"h":28.4},{"s":"NA","x":0.5,"m":27.1,"l":25.3,"h":28.9},{"s":"NA","x":0.6,"m":27.6,"l":26.0,"h":29.2},{"s":"NA","x":0.7,"m":28.0,"l":26.6,"h":29.4},{"s":"NA","x":0.8,"m":28.0,"l":26.8,"h":29.2},{"s":"NA","x":0.9,"m":28.0,"l":26.8,"h":29.2},{"s":"NA","x":1,"m":28.2,"l":27.1,"h":29.3}
],
"d5E":[
{"s":"A","x":0.01,"m":21.5,"l":20.5,"h":22.5},{"s":"A","x":0.02,"m":21.5,"l":20.5,"h":22.5},{"s":"A","x":0.03,"m":21.4,"l":20.4,"h":22.4},{"s":"A","x":0.04,"m":21.4,"l":20.4,"h":22.4},{"s":"A","x":0.05,"m":21.3,"l":20.3,"h":22.3},{"s":"A","x":0.06,"m":21.2,"l":20.2,"h":22.2},{"s":"A","x":0.07,"m":21.2,"l":20.2,"h":22.2},{"s":"A","x":0.08,"m":21.1,"l":20.1,"h":22.1},{"s":"A","x":0.09,"m":21.0,"l":20.0,"h":22.0},{"s":"A","x":0.1,"m":20.9,"l":19.9,"h":21.9},{"s":"A","x":0.15,"m":20.7,"l":19.7,"h":21.7},{"s":"A","x":0.2,"m":20.2,"l":19.0,"h":21.4},{"s":"A","x":0.25,"m":18.7,"l":17.4,"h":20.0},{"s":"A","x":0.3,"m":17.8,"l":16.8,"h":18.8},{"s":"A","x":0.35,"m":18.0,"l":17.0,"h":19.0},{"s":"A","x":0.4,"m":16.9,"l":16.0,"h":17.8},{"s":"A","x":0.45,"m":16.8,"l":15.9,"h":17.7},{"s":"A","x":0.5,"m":16.2,"l":15.3,"h":17.1},{"s":"A","x":0.6,"m":15.4,"l":14.6,"h":16.2},{"s":"A","x":0.7,"m":14.9,"l":14.1,"h":15.7},{"s":"A","x":0.8,"m":14.5,"l":13.7,"h":15.3},{"s":"A","x":0.9,"m":14.3,"l":13.5,"h":15.1},{"s":"A","x":1,"m":13.6,"l":12.8,"h":14.4},
{"s":"N","x":0.01,"m":27.0,"l":26.1,"h":27.9},{"s":"N","x":0.02,"m":25.4,"l":24.5,"h":26.3},{"s":"N","x":0.03,"m":24.0,"l":23.1,"h":24.9},{"s":"N","x":0.04,"m":23.1,"l":22.2,"h":24.0},{"s":"N","x":0.05,"m":22.5,"l":21.6,"h":23.4},{"s":"N","x":0.06,"m":22.3,"l":21.4,"h":23.2},{"s":"N","x":0.07,"m":22.1,"l":21.2,"h":23.0},{"s":"N","x":0.08,"m":21.9,"l":21.0,"h":22.8},{"s":"N","x":0.09,"m":21.7,"l":20.8,"h":22.6},{"s":"N","x":0.1,"m":21.6,"l":20.7,"h":22.5},{"s":"N","x":0.15,"m":20.7,"l":19.8,"h":21.6},{"s":"N","x":0.2,"m":19.9,"l":19.0,"h":20.8},{"s":"N","x":0.25,"m":18.7,"l":17.8,"h":19.6},{"s":"N","x":0.3,"m":17.8,"l":16.9,"h":18.7},{"s":"N","x":0.35,"m":17.6,"l":16.7,"h":18.5},{"s":"N","x":0.4,"m":16.9,"l":16.0,"h":17.8},{"s":"N","x":0.45,"m":16.8,"l":15.9,"h":17.7},{"s":"N","x":0.5,"m":16.2,"l":15.3,"h":17.1},{"s":"N","x":0.6,"m":15.4,"l":14.5,"h":16.3},{"s":"N","x":0.7,"m":14.9,"l":14.0,"h":15.8},{"s":"N","x":0.8,"m":14.5,"l":13.6,"h":15.4},{"s":"N","x":0.9,"m":14.3,"l":13.4,"h":15.2},{"s":"N","x":1,"m":13.6,"l":12.7,"h":14.5},
{"s":"NA","x":0.01,"m":22.7,"l":21.4,"h":24.0},{"s":"NA","x":0.02,"m":22.9,"l":21.6,"h":24.2},{"s":"NA","x":0.03,"m":23.1,"l":21.8,"h":24.4},{"s":"NA","x":0.04,"m":23.6,"l":22.3,"h":24.9},{"s":"NA","x":0.05,"m":24.0,"l":22.7,"h":25.3},{"s":"NA","x":0.06,"m":24.5,"l":23.2,"h":25.8},{"s":"NA","x":0.07,"m":24.9,"l":23.6,"h":26.2},{"s":"NA","x":0.08,"m":25.0,"l":23.7,"h":26.3},{"s":"NA","x":0.09,"m":25.1,"l":23.8,"h":26.4},{"s":"NA","x":0.1,"m":25.2,"l":23.9,"h":26.5},{"s":"NA","x":0.15,"m":26.0,"l":24.6,"h":27.4},{"s":"NA","x":0.2,"m":27.4,"l":25.9,"h":28.9},{"s":"NA","x":0.25,"m":28.2,"l":26.8,"h":29.6},{"s":"NA","x":0.3,"m":28.7,"l":27.4,"h":30.0},{"s":"NA","x":0.35,"m":29.2,"l":28.0,"h":30.4},{"s":"NA","x":0.4,"m":29.5,"l":28.4,"h":30.6},{"s":"NA","x":0.45,"m":29.5,"l":28.5,"h":30.5},{"s":"NA","x":0.5,"m":29.5,"l":28.5,"h":30.5},{"s":"NA","x":0.6,"m":30.4,"l":29.5,"h":31.3},{"s":"NA","x":0.7,"m":30.4,"l":29.5,"h":31.3},{"s":"NA","x":0.8,"m":30.7,"l":29.9,"h":31.5},{"s":"NA","x":0.9,"m":30.7,"l":29.9,"h":31.5},{"s":"NA","x":1,"m":30.4,"l":29.6,"h":31.2}
]
},
"columns":6,
"bounds":"flush",
"spacing":{"row":11.5,"column":6},
"concat":[
{"data":{"name":"d1T"},"width":180,"height":112,"title":"Inpainting",
"encoding":{"x":{"field":"x","type":"quantitative","scale":{"domain":[-0.0395,1.0495],"nice":false,"zero":false},"axis":{"values":[0,0.25,0.5,0.75,1],"labels":false,"title":null}}},
"layer":[
{"mark":{"type":"area","fillOpacity":0.2,"clip":true},"encoding":{"y":{"field":"l","type":"quantitative","scale":{"domain":[10,40],"nice":false,"zero":false},"axis":{"values":[10,20,30,40],"title":"PSNR (median ± IQR)","labelFlush":false,"labelOverlap":false}},"y2":{"field":"h"},"fill":{"field":"s","type":"nominal","scale":{"domain":["A","N","NA","z"],"range":["#1f77b4","#ff7f0e","#2ca02c","#999999"]},"legend":null}}},
{"mark":{"type":"line","strokeWidth":1,"strokeDash":[3.7,1.6],"clip":true},"encoding":{"y":{"field":"m","type":"quantitative","axis":{"values":[10,20,30,40],"title":"PSNR (median ± IQR)","labelFlush":false,"labelOverlap":false}},"color":{"field":"s","type":"nominal","scale":{"domain":["A","N","NA"],"range":["#1f77b4","#ff7f0e","#2ca02c"]},
"legend":{"orient":"none","legendX":258,"legendY":264,"direction":"horizontal","title":null,"symbolSize":676,"symbolStrokeWidth":1,"symbolOpacity":1,"labelFont":"Liberation Sans","labelFontSize":11,"labelColor":"#000","labelOffset":6,"columnPadding":25,"padding":0,
"labelExpr":"datum.label == 'A' ? 'Analytical vs GT' : datum.label == 'N' ? 'Neural vs GT' : 'Neural vs Analytical'",
"encode":{"symbols":{"update":{"shape":{"signal":"datum.value == 'A' ? 'M-1,0H-0.72M-0.6,0H-0.32M0.32,0H0.6M0.72,0H1M0.2,0A0.2,0.2,0,1,1,-0.2,0A0.2,0.2,0,1,1,0.2,0Z' : datum.value == 'N' ? 'M-1,0H-0.72M-0.6,0H-0.32M0.32,0H0.6M0.72,0H1M-0.2,-0.2H0.2V0.2H-0.2Z' : 'M-1,0H-0.72M-0.6,0H-0.32M0.32,0H0.6M0.72,0H1M-0.18,-0.18L0.18,0.18M-0.18,0.18L0.18,-0.18'"},"fill":{"scale":"color","field":"value"},"strokeDash":{"value":[]},"opacity":{"value":1},"fillOpacity":{"value":1},"strokeOpacity":{"value":1},"strokeWidth":{"value":1}}}}}}}},
{"mark":{"type":"point","filled":true,"opacity":1,"size":20,"strokeWidth":0.8,"clip":true},"encoding":{"y":{"field":"m","type":"quantitative","axis":{"values":[10,20,30,40],"title":"PSNR (median ± IQR)","labelFlush":false,"labelOverlap":false}},"fill":{"field":"s","type":"nominal","legend":null},"stroke":{"field":"s","type":"nominal","scale":{"domain":["A","N","NA","z"],"range":["#1f77b4","#ff7f0e","#2ca02c","#999999"]},"legend":null},"shape":{"field":"s","type":"nominal","scale":{"domain":["A","N","NA","z"],"range":["circle","square","M-1,-1L1,1M-1,1L1,-1","circle"]},"legend":null}}}
]},
{"data":{"name":"d2T"},"width":180,"height":112,"title":"Deconvolution",
"encoding":{"x":{"field":"x","type":"quantitative","scale":{"domain":[-0.0395,1.0495],"nice":false,"zero":false},"axis":{"values":[0,0.25,0.5,0.75,1],"labels":false,"title":null}}},
"layer":[
{"mark":{"type":"area","fillOpacity":0.2,"clip":true},"encoding":{"y":{"field":"l","type":"quantitative","scale":{"domain":[10,40],"nice":false,"zero":false},"axis":{"values":[10,20,30,40],"labels":false,"title":null}},"y2":{"field":"h"},"fill":{"field":"s","type":"nominal","legend":null}}},
{"mark":{"type":"line","strokeWidth":1,"strokeDash":[3.7,1.6],"clip":true},"encoding":{"y":{"field":"m","type":"quantitative","axis":{"values":[10,20,30,40],"labels":false,"title":null}},"color":{"field":"s","type":"nominal"}}},
{"mark":{"type":"point","filled":true,"opacity":1,"size":20,"strokeWidth":0.8,"clip":true},"encoding":{"y":{"field":"m","type":"quantitative","axis":{"values":[10,20,30,40],"labels":false,"title":null}},"fill":{"field":"s","type":"nominal","legend":null},"stroke":{"field":"s","type":"nominal","legend":null},"shape":{"field":"s","type":"nominal","legend":null}}}
]},
{"data":{"name":"d3T"},"width":180,"height":112,"title":"Denoising",
"encoding":{"x":{"field":"x","type":"quantitative","scale":{"domain":[-0.0395,1.0495],"nice":false,"zero":false},"axis":{"values":[0,0.25,0.5,0.75,1],"labels":false,"title":null}}},
"layer":[
{"mark":{"type":"area","fillOpacity":0.2,"clip":true},"encoding":{"y":{"field":"l","type":"quantitative","scale":{"domain":[10,40],"nice":false,"zero":false},"axis":{"values":[10,20,30,40],"labels":false,"title":null}},"y2":{"field":"h"},"fill":{"field":"s","type":"nominal","legend":null}}},
{"mark":{"type":"line","strokeWidth":1,"strokeDash":[3.7,1.6],"clip":true},"encoding":{"y":{"field":"m","type":"quantitative","axis":{"values":[10,20,30,40],"labels":false,"title":null}},"color":{"field":"s","type":"nominal"}}},
{"mark":{"type":"point","filled":true,"opacity":1,"size":20,"strokeWidth":0.8,"clip":true},"encoding":{"y":{"field":"m","type":"quantitative","axis":{"values":[10,20,30,40],"labels":false,"title":null}},"fill":{"field":"s","type":"nominal","legend":null},"stroke":{"field":"s","type":"nominal","legend":null},"shape":{"field":"s","type":"nominal","legend":null}}}
]},
{"data":{"values":[]},"width":11,"height":112,"mark":"point","encoding":{},"view":{"stroke":null}},
{"data":{"name":"d4T"},"width":180,"height":112,"title":"Inpainting",
"encoding":{"x":{"field":"x","type":"quantitative","scale":{"domain":[-0.0395,1.0495],"nice":false,"zero":false},"axis":{"values":[0,0.25,0.5,0.75,1],"labels":false,"title":null}}},
"layer":[
{"mark":{"type":"area","fillOpacity":0.2,"clip":true},"encoding":{"y":{"field":"l","type":"quantitative","scale":{"domain":[10,40],"nice":false,"zero":false},"axis":{"values":[10,20,30,40],"labels":false,"title":null}},"y2":{"field":"h"},"fill":{"field":"s","type":"nominal","legend":null}}},
{"mark":{"type":"line","strokeWidth":1,"strokeDash":[3.7,1.6],"clip":true},"encoding":{"y":{"field":"m","type":"quantitative","axis":{"values":[10,20,30,40],"labels":false,"title":null}},"color":{"field":"s","type":"nominal"}}},
{"mark":{"type":"point","filled":true,"opacity":1,"size":20,"strokeWidth":0.8,"clip":true},"encoding":{"y":{"field":"m","type":"quantitative","axis":{"values":[10,20,30,40],"labels":false,"title":null}},"fill":{"field":"s","type":"nominal","legend":null},"stroke":{"field":"s","type":"nominal","legend":null},"shape":{"field":"s","type":"nominal","legend":null}}}
]},
{"data":{"name":"d5T"},"width":180,"height":112,"title":"Deconvolution",
"encoding":{"x":{"field":"x","type":"quantitative","scale":{"domain":[-0.0395,1.0495],"nice":false,"zero":false},"axis":{"values":[0,0.25,0.5,0.75,1],"labels":false,"title":null}}},
"layer":[
{"mark":{"type":"area","fillOpacity":0.2,"clip":true},"encoding":{"y":{"field":"l","type":"quantitative","scale":{"domain":[10,40],"nice":false,"zero":false},"axis":null},"y2":{"field":"h"},"fill":{"field":"s","type":"nominal","legend":null}}},
{"mark":{"type":"line","strokeWidth":1,"strokeDash":[3.7,1.6],"clip":true},"encoding":{"y":{"field":"m","type":"quantitative","axis":{"orient":"left","values":[10,20,30,40],"labels":false,"title":null}},"color":{"field":"s","type":"nominal"}}},
{"mark":{"type":"point","filled":true,"opacity":1,"size":20,"strokeWidth":0.8,"clip":true},"encoding":{"y":{"field":"m","type":"quantitative","axis":{"orient":"right","title":"Train","labels":false,"ticks":false,"grid":false,"domain":false,"titlePadding":4,"titleFontSize":13.5}},"fill":{"field":"s","type":"nominal","legend":null},"stroke":{"field":"s","type":"nominal","legend":null},"shape":{"field":"s","type":"nominal","legend":null}}}
],"resolve":{"axis":{"y":"independent"}}},
{"data":{"name":"d1E"},"width":180,"height":112,
"encoding":{"x":{"field":"x","type":"quantitative","scale":{"domain":[-0.0395,1.0495],"nice":false,"zero":false},"axis":{"values":[0,0.25,0.5,0.75,1],"format":".2f","title":"noise level σ","labelFlush":false,"labelOverlap":false,"labelBound":false,"labelPadding":0.5,"titlePadding":1}}},
"layer":[
{"mark":{"type":"area","fillOpacity":0.2,"clip":true},"encoding":{"y":{"field":"l","type":"quantitative","scale":{"domain":[10,40],"nice":false,"zero":false},"axis":{"values":[10,20,30,40],"title":"PSNR (median ± IQR)","labelFlush":false,"labelOverlap":false}},"y2":{"field":"h"},"fill":{"field":"s","type":"nominal","legend":null}}},
{"mark":{"type":"line","strokeWidth":1,"strokeDash":[3.7,1.6],"clip":true},"encoding":{"y":{"field":"m","type":"quantitative","axis":{"values":[10,20,30,40],"title":"PSNR (median ± IQR)","labelFlush":false,"labelOverlap":false}},"color":{"field":"s","type":"nominal"}}},
{"mark":{"type":"point","filled":true,"opacity":1,"size":20,"strokeWidth":0.8,"clip":true},"encoding":{"y":{"field":"m","type":"quantitative","axis":{"values":[10,20,30,40],"title":"PSNR (median ± IQR)","labelFlush":false,"labelOverlap":false}},"fill":{"field":"s","type":"nominal","legend":null},"stroke":{"field":"s","type":"nominal","legend":null},"shape":{"field":"s","type":"nominal","legend":null}}}
]},
{"data":{"name":"d2E"},"width":180,"height":112,
"encoding":{"x":{"field":"x","type":"quantitative","scale":{"domain":[-0.0395,1.0495],"nice":false,"zero":false},"axis":{"values":[0,0.25,0.5,0.75,1],"format":".2f","title":"noise level σ","labelFlush":false,"labelOverlap":false,"labelBound":false,"labelPadding":0.5,"titlePadding":1}}},
"layer":[
{"mark":{"type":"area","fillOpacity":0.2,"clip":true},"encoding":{"y":{"field":"l","type":"quantitative","scale":{"domain":[10,40],"nice":false,"zero":false},"axis":{"values":[10,20,30,40],"labels":false,"title":null}},"y2":{"field":"h"},"fill":{"field":"s","type":"nominal","legend":null}}},
{"mark":{"type":"line","strokeWidth":1,"strokeDash":[3.7,1.6],"clip":true},"encoding":{"y":{"field":"m","type":"quantitative","axis":{"values":[10,20,30,40],"labels":false,"title":null}},"color":{"field":"s","type":"nominal"}}},
{"mark":{"type":"point","filled":true,"opacity":1,"size":20,"strokeWidth":0.8,"clip":true},"encoding":{"y":{"field":"m","type":"quantitative","axis":{"values":[10,20,30,40],"labels":false,"title":null}},"fill":{"field":"s","type":"nominal","legend":null},"stroke":{"field":"s","type":"nominal","legend":null},"shape":{"field":"s","type":"nominal","legend":null}}}
]},
{"data":{"name":"d3E"},"width":180,"height":112,
"encoding":{"x":{"field":"x","type":"quantitative","scale":{"domain":[-0.0395,1.0495],"nice":false,"zero":false},"axis":{"values":[0,0.25,0.5,0.75,1],"format":".2f","title":"noise level σ","labelFlush":false,"labelOverlap":false,"labelBound":false,"labelPadding":0.5,"titlePadding":1}}},
"layer":[
{"mark":{"type":"area","fillOpacity":0.2,"clip":true},"encoding":{"y":{"field":"l","type":"quantitative","scale":{"domain":[10,40],"nice":false,"zero":false},"axis":{"values":[10,20,30,40],"labels":false,"title":null}},"y2":{"field":"h"},"fill":{"field":"s","type":"nominal","legend":null}}},
{"mark":{"type":"line","strokeWidth":1,"strokeDash":[3.7,1.6],"clip":true},"encoding":{"y":{"field":"m","type":"quantitative","axis":{"values":[10,20,30,40],"labels":false,"title":null}},"color":{"field":"s","type":"nominal"}}},
{"mark":{"type":"point","filled":true,"opacity":1,"size":20,"strokeWidth":0.8,"clip":true},"encoding":{"y":{"field":"m","type":"quantitative","axis":{"values":[10,20,30,40],"labels":false,"title":null}},"fill":{"field":"s","type":"nominal","legend":null},"stroke":{"field":"s","type":"nominal","legend":null},"shape":{"field":"s","type":"nominal","legend":null}}}
]},
{"data":{"values":[]},"width":11,"height":112,"mark":"point","encoding":{},"view":{"stroke":null}},
{"data":{"name":"d4E"},"width":180,"height":112,
"encoding":{"x":{"field":"x","type":"quantitative","scale":{"domain":[-0.0395,1.0495],"nice":false,"zero":false},"axis":{"values":[0,0.25,0.5,0.75,1],"format":".2f","title":"noise level σ","labelFlush":false,"labelOverlap":false,"labelBound":false,"labelPadding":0.5,"titlePadding":1}}},
"layer":[
{"mark":{"type":"area","fillOpacity":0.2,"clip":true},"encoding":{"y":{"field":"l","type":"quantitative","scale":{"domain":[10,40],"nice":false,"zero":false},"axis":{"values":[10,20,30,40],"labels":false,"title":null}},"y2":{"field":"h"},"fill":{"field":"s","type":"nominal","legend":null}}},
{"mark":{"type":"line","strokeWidth":1,"strokeDash":[3.7,1.6],"clip":true},"encoding":{"y":{"field":"m","type":"quantitative","axis":{"values":[10,20,30,40],"labels":false,"title":null}},"color":{"field":"s","type":"nominal"}}},
{"mark":{"type":"point","filled":true,"opacity":1,"size":20,"strokeWidth":0.8,"clip":true},"encoding":{"y":{"field":"m","type":"quantitative","axis":{"values":[10,20,30,40],"labels":false,"title":null}},"fill":{"field":"s","type":"nominal","legend":null},"stroke":{"field":"s","type":"nominal","legend":null},"shape":{"field":"s","type":"nominal","legend":null}}}
]},
{"data":{"name":"d5E"},"width":180,"height":112,
"encoding":{"x":{"field":"x","type":"quantitative","scale":{"domain":[-0.0395,1.0495],"nice":false,"zero":false},"axis":{"values":[0,0.25,0.5,0.75,1],"format":".2f","title":"noise level σ","labelFlush":false,"labelOverlap":false,"labelBound":false,"labelPadding":0.5,"titlePadding":1}}},
"layer":[
{"mark":{"type":"area","fillOpacity":0.2,"clip":true},"encoding":{"y":{"field":"l","type":"quantitative","scale":{"domain":[10,40],"nice":false,"zero":false},"axis":null},"y2":{"field":"h"},"fill":{"field":"s","type":"nominal","legend":null}}},
{"mark":{"type":"line","strokeWidth":1,"strokeDash":[3.7,1.6],"clip":true},"encoding":{"y":{"field":"m","type":"quantitative","axis":{"orient":"left","values":[10,20,30,40],"labels":false,"title":null}},"color":{"field":"s","type":"nominal"}}},
{"mark":{"type":"point","filled":true,"opacity":1,"size":20,"strokeWidth":0.8,"clip":true},"encoding":{"y":{"field":"m","type":"quantitative","axis":{"orient":"right","title":"Test","labels":false,"ticks":false,"grid":false,"domain":false,"titlePadding":4,"titleFontSize":13.5}},"fill":{"field":"s","type":"nominal","legend":null},"stroke":{"field":"s","type":"nominal","legend":null},"shape":{"field":"s","type":"nominal","legend":null}}}
],"resolve":{"axis":{"y":"independent"}}}
],
"config":{
"background":"white",
"view":{"stroke":"#333333","strokeWidth":1},
"axis":{"domain":false,"tickSize":3.5,"tickColor":"#333333","tickWidth":0.8,"gridColor":"#d4d4d4","gridWidth":1,"labelFont":"Liberation Serif","labelFontSize":11.5,"labelColor":"#000","labelPadding":1.5,"titleFont":"Liberation Sans","titleFontSize":11.5,"titleFontWeight":"normal","titleColor":"#000","titlePadding":4},
"title":{"font":"Liberation Sans","fontSize":13.5,"fontWeight":"normal","color":"#000","offset":4}
}
}
